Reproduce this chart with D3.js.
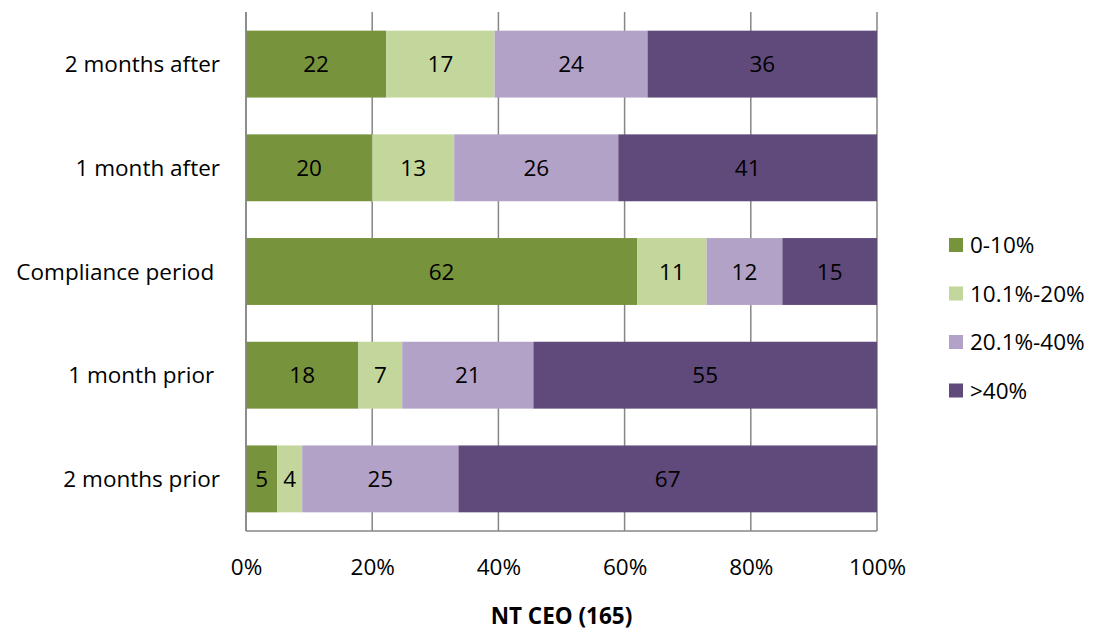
<!DOCTYPE html>
<html>
<head>
<meta charset="utf-8">
<script src="https://cdn.jsdelivr.net/npm/d3@7"></script>
<style>
  html, body { margin: 0; padding: 0; background: #fff; }
  svg text { font-family: "Open Sans", "Noto Sans", sans-serif; white-space: pre; }
</style>
</head>
<body>
<svg id="chart" width="1096" height="632"></svg>
<script>
// Periods, top to bottom
const periods = ["2 months after", "1 month after", "Compliance period ", "1 month prior ", "2 months prior"];
// Share bands
const bands = ["0-10%", "10.1%-20%", "20.1%-40%", ">40%"];
// Counts per band for each period
const band0to10  = [22, 20, 62, 18, 5];
const band10to20 = [17, 13, 11, 7, 4];
const band20to40 = [24, 26, 12, 21, 25];
const bandOver40 = [36, 41, 15, 55, 67];
const tickValues = [0, 0.2, 0.4, 0.6, 0.8, 1];
const axisTitle = "NT CEO (165)";

const colors = ["#77933C", "#C3D69B", "#B3A2C7", "#604A7B"];
const fontSize = 22.5;

const rows = periods.map((p, i) => ({
  period: p,
  [bands[0]]: band0to10[i],
  [bands[1]]: band10to20[i],
  [bands[2]]: band20to40[i],
  [bands[3]]: bandOver40[i]
}));

const svg = d3.select("#chart");
const m = { left: 246, right: 877, top: 12, bottom: 531 };

const x = d3.scaleLinear().domain([0, 1]).range([m.left, m.right]);
const y = d3.scaleBand().domain(periods).range([m.top, m.bottom]).paddingInner(0.355).paddingOuter(0.18);
const color = d3.scaleOrdinal().domain(bands).range(colors);

const series = d3.stack().keys(bands).offset(d3.stackOffsetExpand)(rows);

// Vertical gridlines
svg.append("g")
  .selectAll("line")
  .data(tickValues)
  .join("line")
  .attr("x1", d => x(d)).attr("x2", d => x(d))
  .attr("y1", m.top).attr("y2", m.bottom)
  .attr("stroke", "#868686")
  .attr("stroke-width", 1.5);

// Bars
const groups = svg.append("g")
  .selectAll("g")
  .data(series)
  .join("g")
  .attr("fill", d => color(d.key));

groups.selectAll("rect")
  .data(d => d)
  .join("rect")
  .attr("x", d => x(d[0]))
  .attr("width", d => x(d[1]) - x(d[0]))
  .attr("y", d => y(d.data.period))
  .attr("height", y.bandwidth());

// Value labels
svg.append("g")
  .selectAll("g")
  .data(series)
  .join("g")
  .selectAll("text")
  .data(d => d.map(v => ({ v, key: d.key })))
  .join("text")
  .attr("x", d => (x(d.v[0]) + x(d.v[1])) / 2)
  .attr("y", d => y(d.v.data.period) + y.bandwidth() / 2)
  .attr("dy", "0.36em")
  .attr("text-anchor", "middle")
  .attr("font-size", fontSize)
  .attr("fill", "#000")
  .text(d => d.v.data[d.key]);

// Axis lines
svg.append("line")
  .attr("x1", m.left).attr("x2", m.right)
  .attr("y1", m.bottom).attr("y2", m.bottom)
  .attr("stroke", "#868686").attr("stroke-width", 1.5);
svg.append("line")
  .attr("x1", m.left).attr("x2", m.left)
  .attr("y1", m.top).attr("y2", m.bottom)
  .attr("stroke", "#868686").attr("stroke-width", 1.5);

// X axis tick labels
const xAxis = d3.axisBottom(x).tickValues(tickValues).tickFormat(d3.format(".0%")).tickSize(0).tickPadding(0);
const gx = svg.append("g").attr("transform", `translate(0,${m.bottom})`).call(xAxis);
gx.select(".domain").remove();
gx.selectAll("text")
  .attr("y", 36)
  .attr("dy", "0.36em")
  .attr("font-size", fontSize)
  .attr("font-family", "\"Open Sans\", sans-serif")
  .attr("fill", "#000");

// Category labels
const yAxis = d3.axisLeft(y).tickSize(0).tickPadding(0);
const gy = svg.append("g").attr("transform", `translate(${m.left - 26},0)`).call(yAxis);
gy.select(".domain").remove();
gy.selectAll("text")
  .attr("font-size", fontSize)
  .attr("font-family", "\"Open Sans\", sans-serif")
  .attr("fill", "#000")
  .attr("dy", "0.36em");

// Axis title
svg.append("text")
  .attr("x", (m.left + m.right) / 2)
  .attr("y", 624)
  .attr("text-anchor", "middle")
  .attr("font-size", fontSize)
  .attr("font-weight", "bold")
  .text(axisTitle);

// Legend
const legend = svg.append("g").attr("transform", "translate(949,245)");
const items = legend.selectAll("g")
  .data(bands)
  .join("g")
  .attr("transform", (d, i) => `translate(0,${i * 48.5})`);
items.append("rect")
  .attr("x", 0).attr("y", -7)
  .attr("width", 14).attr("height", 14)
  .attr("fill", d => color(d));
items.append("text")
  .attr("x", 21).attr("y", 0)
  .attr("dy", "0.36em")
  .attr("font-size", fontSize)
  .text(d => d);
</script>
</body>
</html>
